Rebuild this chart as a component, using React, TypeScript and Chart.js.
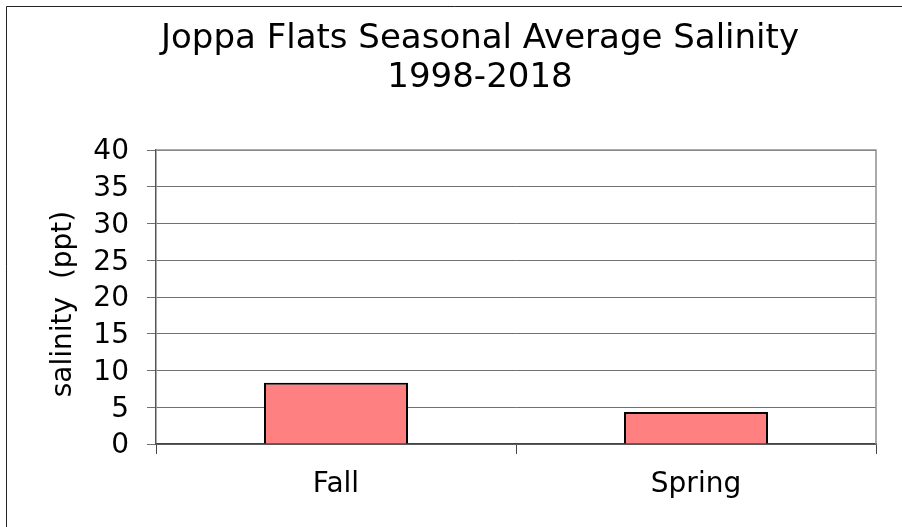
import React, { useEffect, useRef } from "react";
import { Chart, registerables } from "chart.js";

Chart.register(...registerables);

const categories = ["Fall", "Spring"];
const salinity = [8.35, 4.35];
const titleLines = ["Joppa Flats Seasonal Average Salinity", "1998-2018"];
const yAxisTitle = "salinity  (ppt)";
const yMin = 0;
const yMax = 40;
const yStep = 5;

const FONT = "'DejaVu Sans', Verdana, sans-serif";

const decor = {
  id: "decor",
  beforeDraw(chart: any) {
    const { ctx, width, height } = chart;
    ctx.save();
    ctx.fillStyle = "#fff";
    ctx.fillRect(0, 0, width, height);
    ctx.strokeStyle = "#222";
    ctx.lineWidth = 1;
    ctx.beginPath();
    ctx.moveTo(6.5, height);
    ctx.lineTo(6.5, 6.5);
    ctx.lineTo(width, 6.5);
    ctx.stroke();
    ctx.fillStyle = "#000";
    ctx.font = `34px ${FONT}`;
    ctx.textAlign = "center";
    ctx.textBaseline = "alphabetic";
    const cx = 480;
    ctx.fillText(titleLines[0], cx, 48);
    ctx.fillText(titleLines[1], cx, 87);
    // y axis title
    ctx.font = `28px ${FONT}`;
    ctx.textBaseline = "middle";
    ctx.translate(64, 304);
    ctx.rotate(-Math.PI / 2);
    ctx.fillText(yAxisTitle, 0, 0);
    ctx.restore();
  },
  beforeDatasetsDraw(chart: any) {
    const { ctx, chartArea } = chart;
    ctx.save();
    ctx.strokeStyle = "#909090";
    ctx.lineWidth = 1.5;
    ctx.beginPath();
    ctx.moveTo(chartArea.left, chartArea.top);
    ctx.lineTo(chartArea.right, chartArea.top);
    ctx.lineTo(chartArea.right, chartArea.bottom);
    ctx.stroke();
    ctx.restore();
  },
};

export default function App() {
  const ref = useRef<HTMLCanvasElement>(null);
  useEffect(() => {
    if (!ref.current) return;
    const chart = new Chart(ref.current, {
      type: "bar",
      data: {
        labels: categories,
        datasets: [
          {
            data: salinity,
            backgroundColor: "#FF8080",
            borderColor: "#000",
            borderWidth: 2,
            categoryPercentage: 0.8,
            barPercentage: 0.5,
          },
        ],
      },
      options: {
        responsive: false,
        animation: false,
        layout: { padding: { left: 0, top: 150, right: 26, bottom: 0 } },
        plugins: { legend: { display: false }, tooltip: { enabled: false }, title: { display: false } },
        scales: {
          x: {
            grid: {
              display: true,
              drawOnChartArea: false,
              drawTicks: true,
              tickLength: 10,
              color: "#444",
              offset: true,
            },
            border: { display: true, color: "#444", width: 1.5 },
            ticks: { color: "#000", font: { family: FONT, size: 28 }, padding: 14 },
            afterFit(scale: any) {
              scale.height = 83;
            },
          },
          y: {
            min: yMin,
            max: yMax,
            ticks: {
              stepSize: yStep,
              color: "#000",
              font: { family: FONT, size: 28 },
              padding: 18,
              labelOffset: 2,
            },
            grid: { color: "#707070", lineWidth: 1, tickLength: 9, drawTicks: true },
            border: { display: true, color: "#555", width: 1.5 },
            title: { display: false },
            afterFit(scale: any) {
              scale.width = 156;
            },
          },
        },
      },
      plugins: [decor],
    });
    return () => chart.destroy();
  }, []);
  return (
    <div style={{ position: "fixed", left: 0, top: 0, width: 902, height: 527 }}>
      <canvas ref={ref} width={902} height={527} style={{ display: "block" }} />
    </div>
  );
}
